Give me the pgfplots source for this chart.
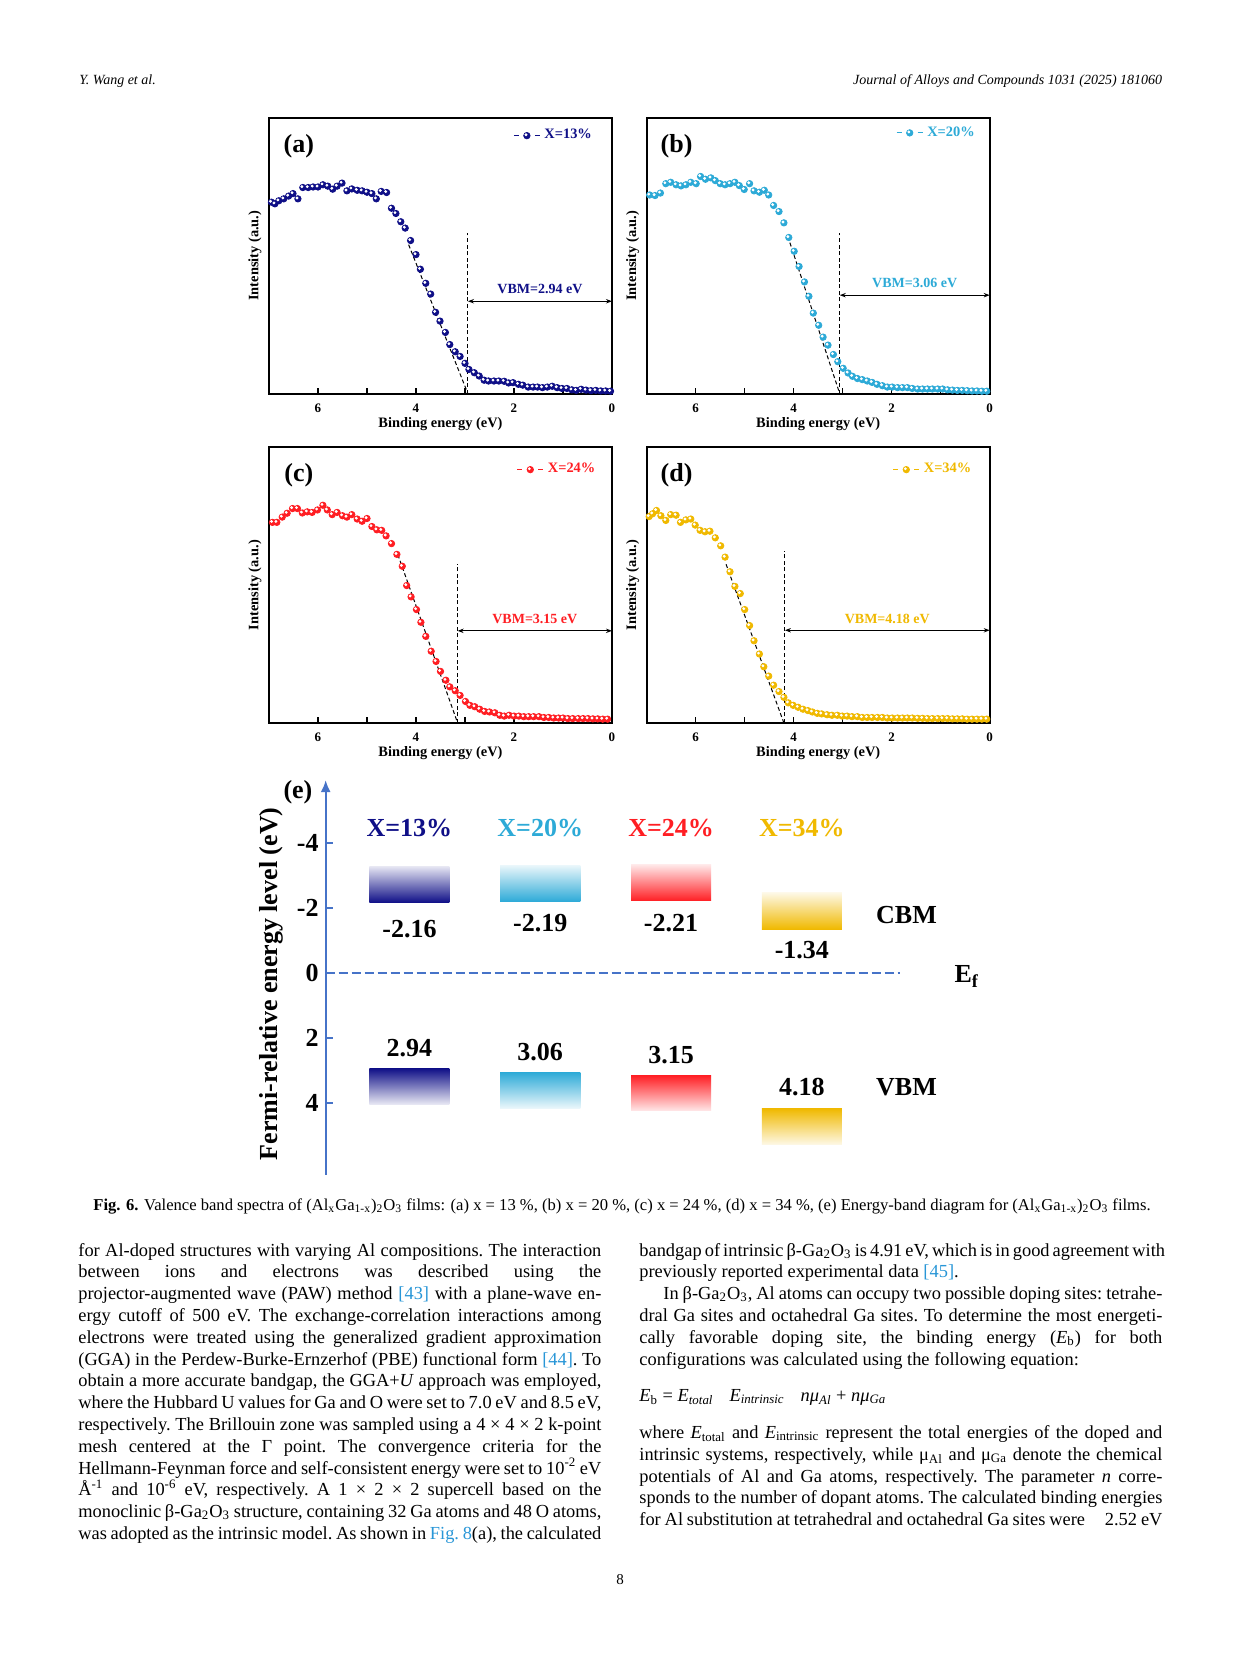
\documentclass[border=0pt]{standalone}
\usepackage{fontspec}
\setmainfont{Liberation Serif}
\usepackage{pgfplots}
\usepackage{pgfplotstable}
\pgfplotsset{compat=1.18}
\usetikzlibrary{arrows.meta}

\definecolor{cnavy}{RGB}{15,15,135}
\definecolor{ccyan}{RGB}{45,170,215}
\definecolor{cred}{RGB}{255,30,35}
\definecolor{cgold}{RGB}{240,185,0}
\definecolor{axisblue}{RGB}{70,115,200}
\definecolor{linkblue}{RGB}{40,150,215}

\newcommand{\bodyfont}{\fontsize{9.2}{10.9}\selectfont\frenchspacing}
\newcommand{\lab}{\bfseries\fontsize{7.2}{8}\selectfont}
\newcommand{\bigf}{\bfseries\fontsize{13}{14}\selectfont}
% one justified line of body text
\newcommand{\bl}[4][s]{\node[anchor=base west, inner sep=0pt, font=\bodyfont] at (#2,#3) {\makebox[261.5pt][#1]{#4}};}

% VB spectra, x = binding energy (eV), y = intensity (a.u.)
\pgfplotstableread{
x y
6.95 69.4
6.88 68.8
6.80 69.9
6.70 70.6
6.60 71.6
6.51 72.5
6.41 70.6
6.31 74.7
6.20 74.7
6.10 74.9
6.00 74.9
5.90 75.7
5.80 75.2
5.70 74.1
5.61 75.2
5.51 76.3
5.41 73.5
5.31 74.2
5.20 73.7
5.10 73.5
5.00 73.0
4.90 72.5
4.81 70.6
4.71 73.3
4.60 72.9
4.50 67.2
4.41 65.3
4.31 62.3
4.22 60.0
4.11 55.5
4.00 50.4
3.91 45.1
3.80 40.0
3.70 36.1
3.60 29.5
3.51 26.3
3.40 22.2
3.31 17.8
3.20 15.2
3.10 13.5
3.00 11.0
2.92 8.8
2.81 7.6
2.71 6.4
2.61 4.9
2.52 4.6
2.41 4.6
2.31 4.6
2.20 4.5
2.11 3.9
2.02 4.0
1.91 3.4
1.82 3.1
1.71 2.4
1.61 2.4
1.52 2.4
1.42 2.2
1.32 2.4
1.22 2.7
1.12 2.2
1.02 1.9
0.92 1.9
0.82 1.4
0.73 1.2
0.63 1.6
0.53 1.3
0.43 1.1
0.33 1.2
0.23 1.0
0.13 1.0
0.03 0.9
}\tabA

\pgfplotstableread{
x y
6.94 72.0
6.83 71.8
6.72 72.7
6.61 76.1
6.51 76.6
6.40 75.7
6.30 75.3
6.20 75.7
6.10 76.6
5.99 76.1
5.90 78.7
5.80 77.7
5.69 78.2
5.60 77.2
5.50 76.1
5.40 75.7
5.30 76.1
5.20 76.6
5.11 75.4
5.01 74.0
4.90 76.1
4.81 73.5
4.70 73.0
4.60 73.7
4.51 72.0
4.41 68.2
4.30 66.0
4.20 61.9
4.10 56.6
3.99 51.6
3.89 46.1
3.78 40.5
3.69 35.3
3.60 29.2
3.49 24.8
3.40 20.5
3.30 17.6
3.19 14.2
3.10 11.6
2.99 9.2
2.89 7.5
2.80 6.3
2.70 5.5
2.60 5.1
2.50 4.6
2.40 4.1
2.30 3.4
2.19 2.9
2.09 2.4
1.99 2.4
1.88 2.2
1.78 2.2
1.68 2.2
1.58 1.9
1.47 1.7
1.37 1.7
1.27 1.7
1.17 1.7
1.06 1.7
0.96 1.7
0.86 1.4
0.76 1.3
0.66 1.2
0.56 1.2
0.46 1.1
0.36 1.0
0.26 1.0
0.16 0.9
0.06 0.9
}\tabB

\pgfplotstableread{
x y
6.93 72.7
6.84 72.7
6.73 74.6
6.63 76.0
6.52 77.7
6.42 77.7
6.32 76.1
6.22 76.5
6.12 76.3
6.01 77.2
5.90 78.9
5.81 77.2
5.71 75.5
5.61 76.3
5.50 75.1
5.41 74.6
5.31 75.5
5.20 73.9
5.10 73.1
5.00 74.1
4.90 71.2
4.80 70.0
4.70 69.8
4.61 67.8
4.50 65.0
4.39 61.1
4.28 56.8
4.19 49.8
4.10 45.7
3.99 41.1
3.90 36.5
3.80 31.4
3.69 26.0
3.59 22.3
3.50 18.7
3.39 15.5
3.31 13.1
3.20 11.7
3.10 10.0
2.99 7.8
2.90 6.4
2.80 5.9
2.70 5.0
2.60 4.2
2.50 4.0
2.39 3.7
2.29 2.8
2.20 2.5
2.10 2.8
2.00 2.5
1.90 2.5
1.80 2.3
1.70 2.3
1.60 2.3
1.49 2.3
1.39 2.0
1.29 2.0
1.19 1.8
1.09 1.8
1.00 1.8
0.90 1.6
0.80 1.6
0.69 1.6
0.59 1.6
0.49 1.6
0.39 1.5
0.29 1.5
0.19 1.4
0.09 1.4
}\tabC

\pgfplotstableread{
x y
6.95 74.8
6.88 75.8
6.80 77.0
6.71 75.1
6.61 73.4
6.51 75.5
6.40 75.3
6.31 72.7
6.20 73.6
6.10 73.9
6.01 71.7
5.91 69.8
5.81 69.3
5.71 69.5
5.60 67.1
5.49 64.2
5.40 60.1
5.30 54.8
5.20 49.5
5.09 46.9
5.00 41.1
4.90 35.3
4.81 29.8
4.70 25.0
4.61 20.4
4.51 17.0
4.41 13.7
4.30 11.4
4.20 9.3
4.11 7.3
4.01 6.4
3.91 5.7
3.81 5.0
3.71 4.5
3.62 4.0
3.52 3.5
3.43 3.3
3.32 3.0
3.22 2.8
3.11 2.8
3.01 2.5
2.91 2.5
2.81 2.3
2.70 2.3
2.60 2.0
2.50 2.0
2.40 2.0
2.29 2.0
2.19 2.0
2.09 1.8
1.99 1.8
1.88 1.8
1.78 1.8
1.68 1.8
1.58 1.8
1.47 1.7
1.37 1.7
1.27 1.6
1.17 1.6
1.06 1.6
0.96 1.6
0.86 1.6
0.76 1.5
0.66 1.5
0.56 1.5
0.46 1.4
0.36 1.4
0.26 1.4
0.16 1.4
0.06 1.4
}\tabD

\pgfplotsset{
  spec/.style={
    scale only axis, width=171.5pt, height=138pt, anchor=north west,
    xmin=0, xmax=7, x dir=reverse, ymin=0, ymax=100,
    xtick={0,2,4,6}, xticklabels={0,2,4,6}, minor xtick={1,3,5},
    ytick=\empty, xtick pos=bottom, tick align=inside,
    major tick length=3pt, minor tick length=3pt,
    axis line style={line width=0.9pt},
    tick style={black, line width=0.7pt},
    xticklabel style={font=\bfseries\fontsize{6.5}{7}\selectfont, yshift=-1.5pt},
    xlabel={Binding energy (eV)}, ylabel={Intensity (a.u.)},
    xlabel style={font=\lab, at={(axis description cs:0.5,-0.109)}, anchor=center},
    ylabel style={font=\lab, at={(axis description cs:-0.041,0.5)}, anchor=center},
    legend style={draw=none, fill=none, anchor=east, font=\lab, inner sep=1pt},
    legend image code/.code={
      \draw[#1, solid, mark=none, line width=0.6pt] (0pt,0pt) -- (2.5pt,0pt) (10.5pt,0pt) -- (13pt,0pt);
      \draw[#1] plot coordinates {(6.5pt,0pt)};
      \fill[white] (6.05pt,0.45pt) circle (0.5pt);
    },
  },
  % sphere-like symbols: coloured disc plus a small white highlight
  dots/.style={only marks, mark=*, mark size=1.6pt, color=#1, mark options={fill=#1, draw=none}},
  shine/.style={only marks, mark=*, mark size=0.5pt, white, forget plot,
    mark options={fill=white, draw=none, xshift=-0.45pt, yshift=0.45pt}},
  tang/.style={black, line width=0.5pt, dash pattern=on 2pt off 1.3pt, forget plot},
  vbm/.style={black, line width=0.5pt, arrows={Stealth[length=3pt,width=2.2pt]-Stealth[length=3pt,width=2.2pt]}, forget plot},
}

\begin{document}
\begin{tikzpicture}
\fill[white] (0,0) rectangle (620.5pt,-827pt);
\path[use as bounding box] (0,0) rectangle (620.5pt,-827pt);

% running head
\node[anchor=base west, inner sep=0pt, font=\itshape\fontsize{7}{8}\selectfont] at (39.5pt,-42pt) {Y. Wang et al.};
\node[anchor=base east, inner sep=0pt, font=\itshape\fontsize{7}{8}\selectfont] at (581.3pt,-42pt) {Journal of Alloys and Compounds 1031 (2025) 181060};

% (a)
\begin{axis}[spec, at={(134.5pt,-58.85pt)}, legend style={at={(axis description cs:0.96,0.935)}}]
\addplot[tang] coordinates {(4.15,54) (2.94,0)};
\addplot[tang] coordinates {(2.94,0) (2.94,58.2)};
\addplot[dots=cnavy] table {\tabA};
\addlegendentry{\textcolor{cnavy}{X=13\%}}
\addplot[shine] table {\tabA};
\addplot[vbm] coordinates {(2.94,33.5) (0,33.5)};
\node[cnavy, font=\bfseries\fontsize{7}{8}\selectfont] at (axis cs:1.47,37.8) {VBM=2.94 eV};
\node[font=\bigf] at (axis description cs:0.087,0.897) {(a)};
\end{axis}

% (b)
\begin{axis}[spec, at={(323.35pt,-58.85pt)}, legend style={at={(axis description cs:0.975,0.945)}}]
\addplot[tang] coordinates {(4.12,57) (3.06,0)};
\addplot[tang] coordinates {(3.06,0) (3.06,58.2)};
\addplot[dots=ccyan] table {\tabB};
\addlegendentry{\textcolor{ccyan}{X=20\%}}
\addplot[shine] table {\tabB};
\addplot[vbm] coordinates {(3.06,35.7) (0,35.7)};
\node[ccyan, font=\bfseries\fontsize{7}{8}\selectfont] at (axis cs:1.53,40) {VBM=3.06 eV};
\node[font=\bigf] at (axis description cs:0.087,0.897) {(b)};
\end{axis}

% (c)
\begin{axis}[spec, at={(134.5pt,-223.5pt)}, legend style={at={(axis description cs:0.97,0.918)}}]
\addplot[tang] coordinates {(4.37,61) (3.15,0)};
\addplot[tang] coordinates {(3.15,0) (3.15,57.5)};
\addplot[dots=cred] table {\tabC};
\addlegendentry{\textcolor{cred}{X=24\%}}
\addplot[shine] table {\tabC};
\addplot[vbm] coordinates {(3.15,33.4) (0,33.4)};
\node[cred, font=\bfseries\fontsize{7}{8}\selectfont] at (axis cs:1.575,37.6) {VBM=3.15 eV};
\node[font=\bigf] at (axis description cs:0.087,0.897) {(c)};
\end{axis}

% (d)
\begin{axis}[spec, at={(323.35pt,-223.5pt)}, legend style={at={(axis description cs:0.965,0.918)}}]
\addplot[tang] coordinates {(5.38,57.5) (4.2,0)};
\addplot[tang] coordinates {(4.18,0) (4.18,62.5)};
\addplot[dots=cgold] table {\tabD};
\addlegendentry{\textcolor{cgold}{X=34\%}}
\addplot[shine] table {\tabD};
\addplot[vbm] coordinates {(4.18,33.6) (0,33.6)};
\node[cgold, font=\bfseries\fontsize{7}{8}\selectfont] at (axis cs:2.09,37.6) {VBM=4.18 eV};
\node[font=\bigf] at (axis description cs:0.087,0.897) {(d)};
\end{axis}

% (e) energy-band diagram
\begin{axis}[at={(162.85pt,-390pt)}, anchor=north west, scale only axis,
  width=287.15pt, height=197.5pt,
  xmin=0.36, xmax=4.75, ymin=-5.93, ymax=6.22, y dir=reverse,
  axis x line=none, axis y line=left,
  y axis line style={draw=axisblue, line width=1.1pt, arrows={Latex[length=6pt,width=5pt]-}},
  ytick={-4,-2,0,2,4}, yticklabels={-4,-2,0,2,4},
  tick align=inside, major tick length=3.5pt,
  ytick style={draw=axisblue, line width=1.1pt},
  yticklabel style={font=\bigf, black},
  ylabel={Fermi-relative energy level (eV)},
  ylabel style={font=\bigf, at={(axis description cs:-0.094,0.484)}, anchor=center},
  clip=false]
% CBM bars
\addplot[draw=none, top color=cnavy!10, bottom color=cnavy] coordinates {(0.694,-2.16) (1.306,-2.16) (1.306,-3.28) (0.694,-3.28)} -- cycle;
\addplot[draw=none, top color=ccyan!10, bottom color=ccyan] coordinates {(1.694,-2.19) (2.306,-2.19) (2.306,-3.31) (1.694,-3.31)} -- cycle;
\addplot[draw=none, top color=cred!10, bottom color=cred] coordinates {(2.694,-2.21) (3.306,-2.21) (3.306,-3.33) (2.694,-3.33)} -- cycle;
\addplot[draw=none, top color=cgold!10, bottom color=cgold] coordinates {(3.694,-1.34) (4.306,-1.34) (4.306,-2.46) (3.694,-2.46)} -- cycle;
% VBM bars
\addplot[draw=none, top color=cnavy, bottom color=cnavy!10] coordinates {(0.694,2.94) (1.306,2.94) (1.306,4.04) (0.694,4.04)} -- cycle;
\addplot[draw=none, top color=ccyan, bottom color=ccyan!10] coordinates {(1.694,3.06) (2.306,3.06) (2.306,4.16) (1.694,4.16)} -- cycle;
\addplot[draw=none, top color=cred, bottom color=cred!10] coordinates {(2.694,3.15) (3.306,3.15) (3.306,4.25) (2.694,4.25)} -- cycle;
\addplot[draw=none, top color=cgold, bottom color=cgold!10] coordinates {(3.694,4.18) (4.306,4.18) (4.306,5.28) (3.694,5.28)} -- cycle;
% Fermi level
\addplot[axisblue, line width=1.3pt, dash pattern=on 4.7pt off 1.8pt] coordinates {(0.36,0) (4.75,0)};
\node[font=\bigf, cnavy] at (axis cs:1,-4.45) {X=13\%};
\node[font=\bigf, ccyan] at (axis cs:2,-4.45) {X=20\%};
\node[font=\bigf, cred] at (axis cs:3,-4.45) {X=24\%};
\node[font=\bigf, cgold] at (axis cs:4,-4.45) {X=34\%};
\node[font=\bigf] at (axis cs:1,-1.35) {-2.16};
\node[font=\bigf] at (axis cs:2,-1.53) {-2.19};
\node[font=\bigf] at (axis cs:3,-1.54) {-2.21};
\node[font=\bigf] at (axis cs:4,-0.70) {-1.34};
\node[font=\bigf] at (axis cs:1,2.32) {2.94};
\node[font=\bigf] at (axis cs:2,2.44) {3.06};
\node[font=\bigf] at (axis cs:3,2.53) {3.15};
\node[font=\bigf] at (axis cs:4,3.51) {4.18};
\node[font=\bigf] at (axis cs:4.80,-1.78) {CBM};
\node[font=\bigf] at (axis cs:4.80,3.52) {VBM};
\node[font=\bigf] at (axis cs:5.26,0.12) {E\textsubscript{f}};
\node[font=\bigf] at (axis cs:0.148,-5.56) {(e)};
\end{axis}

% caption
\node[anchor=base west, inner sep=0pt, font=\fontsize{8.3}{9}\selectfont] at (46.5pt,-605pt) {\textbf{Fig. 6.} Valence band spectra of (Al\textsubscript{x}Ga\textsubscript{1-x})\textsubscript{2}O\textsubscript{3} films: (a) x = 13 \%, (b) x = 20 \%, (c) x = 24 \%, (d) x = 34 \%, (e) Energy-band diagram for (Al\textsubscript{x}Ga\textsubscript{1-x})\textsubscript{2}O\textsubscript{3} films.};

% left column
\bl{39pt}{-628pt}{for Al-doped structures with varying Al compositions. The interaction}
\bl{39pt}{-638.9pt}{between ions and electrons was described using the}
\bl{39pt}{-649.8pt}{projector-augmented wave (PAW) method \textcolor{linkblue}{[43]} with a plane-wave en-}
\bl{39pt}{-660.7pt}{ergy cutoff of 500 eV. The exchange-correlation interactions among}
\bl{39pt}{-671.6pt}{electrons were treated using the generalized gradient approximation}
\bl{39pt}{-682.5pt}{(GGA) in the Perdew-Burke-Ernzerhof (PBE) functional form \textcolor{linkblue}{[44]}. To}
\bl{39pt}{-693.4pt}{obtain a more accurate bandgap, the GGA+\textit{U} approach was employed,}
\bl{39pt}{-704.3pt}{where the Hubbard U values for Ga and O were set to 7.0 eV and 8.5 eV,}
\bl{39pt}{-715.2pt}{respectively. The Brillouin zone was sampled using a 4 × 4 × 2 k-point}
\bl{39pt}{-726.1pt}{mesh centered at the Γ point. The convergence criteria for the}
\bl{39pt}{-737pt}{Hellmann-Feynman force and self-consistent energy were set to 10\textsuperscript{-2} eV}
\bl{39pt}{-747.9pt}{Å\textsuperscript{-1} and 10\textsuperscript{-6} eV, respectively. A 1 × 2 × 2 supercell based on the}
\bl{39pt}{-758.8pt}{monoclinic β-Ga\textsubscript{2}O\textsubscript{3} structure, containing 32 Ga atoms and 48 O atoms,}
\bl{39pt}{-769.7pt}{was adopted as the intrinsic model. As shown in \textcolor{linkblue}{Fig. 8}(a), the calculated}

% right column
\bl{319.5pt}{-628pt}{bandgap of intrinsic β-Ga\textsubscript{2}O\textsubscript{3} is 4.91 eV, which is in good agreement with}
\bl[l]{319.5pt}{-638.9pt}{previously reported experimental data \textcolor{linkblue}{[45]}.}
\bl{319.5pt}{-649.8pt}{\hspace*{12pt}In β-Ga\textsubscript{2}O\textsubscript{3}, Al atoms can occupy two possible doping sites: tetrahe-}
\bl{319.5pt}{-660.7pt}{dral Ga sites and octahedral Ga sites. To determine the most energeti-}
\bl{319.5pt}{-671.6pt}{cally favorable doping site, the binding energy (\textit{E}\textsubscript{b}) for both}
\bl[l]{319.5pt}{-682.5pt}{configurations was calculated using the following equation:}
\bl[l]{319.5pt}{-700.8pt}{\textit{E}\textsubscript{b} = \textit{E}\textsubscript{\textit{total}}\hspace{8pt}\textit{E}\textsubscript{\textit{intrinsic}}\hspace{8pt}\textit{nμ}\textsubscript{\textit{Al}} + \textit{nμ}\textsubscript{\textit{Ga}}}
\bl{319.5pt}{-719.25pt}{where \textit{E}\textsubscript{total} and \textit{E}\textsubscript{intrinsic} represent the total energies of the doped and}
\bl{319.5pt}{-730.15pt}{intrinsic systems, respectively, while μ\textsubscript{Al} and μ\textsubscript{Ga} denote the chemical}
\bl{319.5pt}{-741.05pt}{potentials of Al and Ga atoms, respectively. The parameter \textit{n} corre-}
\bl{319.5pt}{-751.95pt}{sponds to the number of dopant atoms. The calculated binding energies}
\bl{319.5pt}{-762.85pt}{for Al substitution at tetrahedral and octahedral Ga sites were\hspace{8pt} 2.52 eV}

% page number
\node[anchor=base, inner sep=0pt, font=\fontsize{7.5}{8}\selectfont] at (310pt,-792pt) {8};
\end{tikzpicture}
\end{document}
